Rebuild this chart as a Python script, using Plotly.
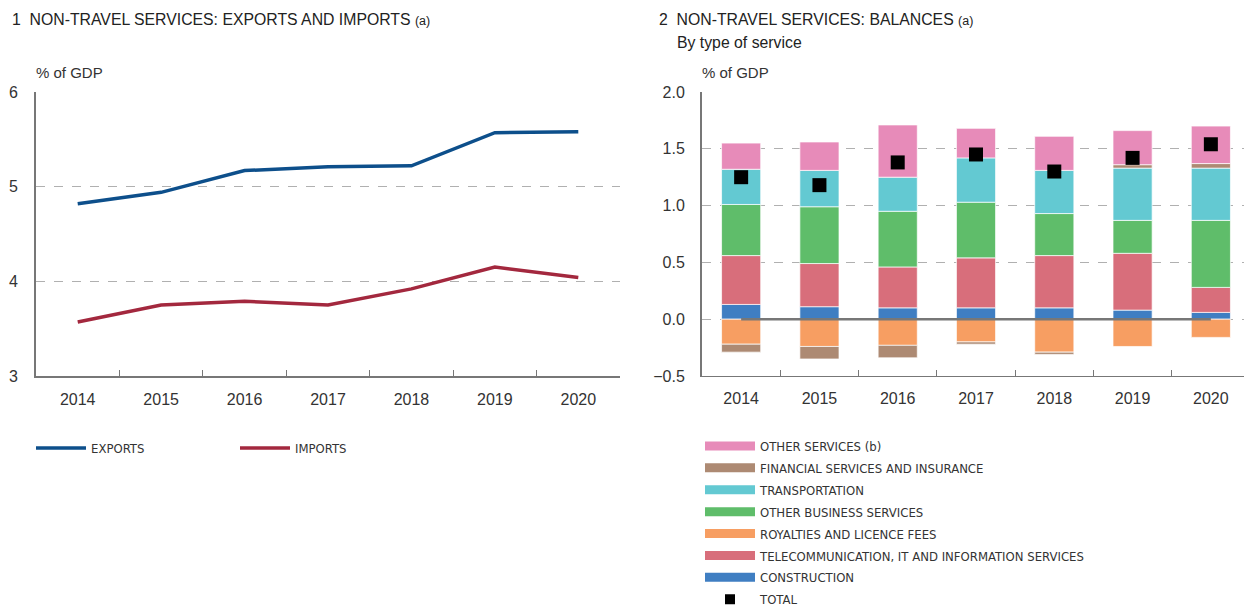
import plotly.graph_objects as go

# ---- data (% of GDP) ----
years = ["2014", "2015", "2016", "2017", "2018", "2019", "2020"]

exports = [4.82, 4.94, 5.17, 5.21, 5.22, 5.57, 5.58]
imports = [3.57, 3.75, 3.79, 3.75, 3.92, 4.15, 4.04]

construction = [0.13, 0.11, 0.10, 0.10, 0.10, 0.08, 0.06]
telecom = [0.43, 0.38, 0.36, 0.44, 0.46, 0.50, 0.22]
royalties = [-0.22, -0.24, -0.23, -0.20, -0.29, -0.24, -0.16]
other_business = [0.45, 0.50, 0.49, 0.49, 0.37, 0.29, 0.59]
transportation = [0.31, 0.32, 0.30, 0.39, 0.38, 0.46, 0.46]
financial = [-0.07, -0.11, -0.11, -0.02, -0.02, 0.03, 0.04]
other_services = [0.23, 0.25, 0.46, 0.26, 0.30, 0.30, 0.33]
total = [1.25, 1.18, 1.38, 1.45, 1.30, 1.42, 1.54]

# the page body has an 8px margin, so the figure is 8px smaller than the window
OFF = 8
W, H = 1252 - OFF, 612 - OFF
ML, MR, MT, MB = 36 - OFF, 2, 92 - OFF, H - (376 - OFF)
PW = W - ML - MR
PH = H - MT - MB


def fx(px):
    # page pixel x -> paper fraction
    return (px - OFF - ML) / PW


def fy(py):
    # page pixel y -> paper fraction
    return (H - MB - (py - OFF)) / PH


BASE = "Liberation Sans, Arial, sans-serif"
NARROW = "DejaVu Sans Condensed, Liberation Sans Narrow, sans-serif"
AXIS_C = "#777777"
GRID_C = "#b0b0b0"
TXT_C = "#333333"
TITLE_C = "#222222"

# stack order bottom-up; legend shows top-down
stack = [
    ("CONSTRUCTION", construction, "#3f7ec2"),
    ("TELECOMMUNICATION, IT AND INFORMATION SERVICES", telecom, "#d86e7b"),
    ("ROYALTIES AND LICENCE FEES", royalties, "#f79e62"),
    ("OTHER BUSINESS SERVICES", other_business, "#5fbd6a"),
    ("TRANSPORTATION", transportation, "#63c9d2"),
    ("FINANCIAL SERVICES AND INSURANCE", financial, "#ad8a73"),
    ("OTHER SERVICES (b)", other_services, "#e78bb9"),
]
legend_order = [
    "OTHER SERVICES (b)",
    "FINANCIAL SERVICES AND INSURANCE",
    "TRANSPORTATION",
    "OTHER BUSINESS SERVICES",
    "ROYALTIES AND LICENCE FEES",
    "TELECOMMUNICATION, IT AND INFORMATION SERVICES",
    "CONSTRUCTION",
]

fig = go.Figure()

# ── Chart 1: lines ──
fig.add_trace(go.Scatter(
    x=years, y=exports, name="EXPORTS", mode="lines",
    line=dict(color="#0d4f8b", width=3.5),
    xaxis="x", yaxis="y", legend="legend",
))
fig.add_trace(go.Scatter(
    x=years, y=imports, name="IMPORTS", mode="lines",
    line=dict(color="#a3283e", width=3.5),
    xaxis="x", yaxis="y", legend="legend",
))

# ── Chart 2: stacked bars ──
for name, vals, col in stack:
    fig.add_trace(go.Bar(
        x=years, y=vals, name=name,
        marker=dict(color=col, line=dict(color="rgba(255,255,255,0.7)", width=1)),
        xaxis="x2", yaxis="y2", showlegend=False,
    ))

# zero line across the bars (first to last category)
fig.add_trace(go.Scatter(
    x=[years[0], years[-1]], y=[0, 0], mode="lines",
    line=dict(color=AXIS_C, width=2.5),
    xaxis="x2", yaxis="y2", showlegend=False, hoverinfo="skip",
))

fig.add_trace(go.Scatter(
    x=years, y=total, mode="markers", name="TOTAL",
    marker=dict(symbol="square", size=14, color="black"),
    xaxis="x2", yaxis="y2", showlegend=False,
))

# legend proxies so swatches look like wide bars
colors = {n: c for n, _, c in stack}
for i, name in enumerate(legend_order):
    fig.add_trace(go.Scatter(
        x=[None], y=[None], mode="lines", name=name,
        line=dict(color=colors[name], width=9),
        xaxis="x2", yaxis="y2", legend="legend2", legendgroup=f"g{i}",
    ))
fig.add_trace(go.Scatter(
    x=[None], y=[None], mode="markers", name="TOTAL",
    marker=dict(symbol="square", size=10, color="black"),
    xaxis="x2", yaxis="y2", legend="legend2", legendgroup="gt",
))

axis_common = dict(
    showline=True, linecolor=AXIS_C, linewidth=2,
    tickfont=dict(family=BASE, size=16, color=TXT_C),
    zeroline=False, fixedrange=True,
)

fig.update_layout(
    width=W, height=H,
    margin=dict(l=ML, r=MR, t=MT, b=MB, autoexpand=False),
    paper_bgcolor="white", plot_bgcolor="white",
    font=dict(family=BASE, color=TXT_C),
    barmode="relative", bargap=0.5,
    xaxis=dict(
        domain=[0, fx(620)], anchor="y", type="category",
        range=[-0.5, 6.5], ticks="inside", tickson="boundaries",
        ticklen=6, tickcolor=AXIS_C, showgrid=False,
        ticklabelstandoff=8, **axis_common,
    ),
    yaxis=dict(
        domain=[0, 1], anchor="x", range=[3, 6], dtick=1,
        showgrid=True, gridcolor=GRID_C, griddash="dash", gridwidth=1,
        ticks="", ticklabelstandoff=13, **axis_common,
    ),
    xaxis2=dict(
        domain=[fx(702), 1], anchor="y2", type="category",
        range=[-0.5, 6.5], ticks="inside", tickson="boundaries",
        ticklen=6, tickcolor=AXIS_C, showgrid=False,
        ticklabelstandoff=8,
        **{**axis_common, "linewidth": 1.2},
    ),
    yaxis2=dict(
        domain=[0, 1], anchor="x2", range=[-0.5, 2.0], dtick=0.5,
        tickformat=".1f",
        showgrid=True, gridcolor=GRID_C, griddash="dash", gridwidth=1,
        ticks="", ticklabelstandoff=12, **axis_common,
    ),
    legend=dict(
        orientation="h", x=fx(31), y=fy(433), xanchor="left", yanchor="top",
        font=dict(family=NARROW, size=13, color=TXT_C),
        itemwidth=50, entrywidth=139, entrywidthmode="pixels",
        bgcolor="rgba(0,0,0,0)",
    ),
    legend2=dict(
        orientation="v", x=fx(700), y=fy(431), xanchor="left", yanchor="top",
        font=dict(family=NARROW, size=13, color=TXT_C),
        itemwidth=50, tracegroupgap=2, bgcolor="rgba(0,0,0,0)",
    ),
    showlegend=True,
)

# ── titles and unit labels ──
ann = []
ann.append(dict(
    x=fx(10), y=fy(20), xref="paper", yref="paper", xanchor="left", yanchor="middle",
    text="1  NON-TRAVEL SERVICES: EXPORTS AND IMPORTS <span style='font-size:12.5px'>(a)</span>",
    showarrow=False, font=dict(family=BASE, size=15.8, color=TITLE_C),
))
ann.append(dict(
    x=fx(657), y=fy(20), xref="paper", yref="paper", xanchor="left", yanchor="middle",
    text="2  NON-TRAVEL SERVICES: BALANCES <span style='font-size:12.5px'>(a)</span>",
    showarrow=False, font=dict(family=BASE, size=15.8, color=TITLE_C),
))
ann.append(dict(
    x=fx(675), y=fy(42), xref="paper", yref="paper", xanchor="left", yanchor="middle",
    text="By type of service",
    showarrow=False, font=dict(family=BASE, size=15.8, color=TITLE_C),
))
for xpx in (34, 700):
    ann.append(dict(
        x=fx(xpx), y=fy(72), xref="paper", yref="paper", xanchor="left", yanchor="middle",
        text="% of GDP", showarrow=False,
        font=dict(family=BASE, size=15, color=TXT_C),
    ))
fig.update_layout(annotations=ann)

fig.write_html("out.html")
